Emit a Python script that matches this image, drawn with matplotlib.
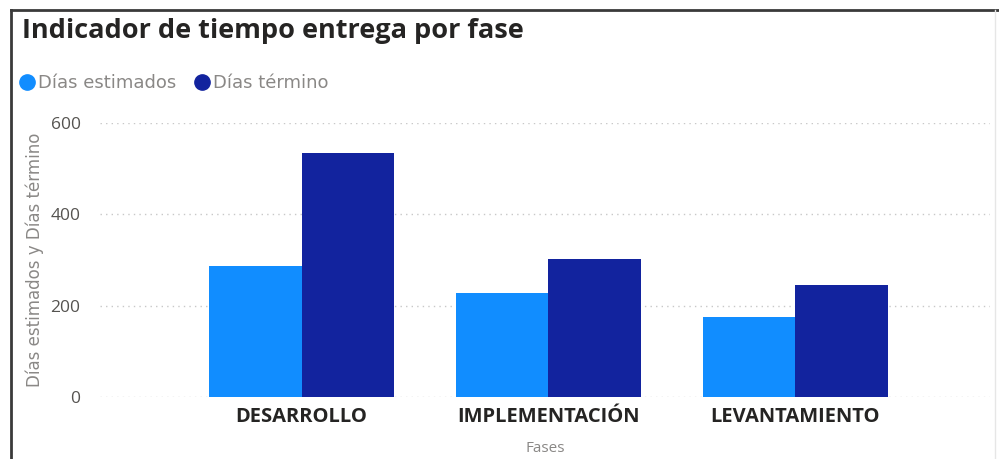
import numpy as np
import matplotlib.pyplot as plt
from matplotlib.lines import Line2D

# Data: days per phase
fases = ['DESARROLLO', 'IMPLEMENTACIÓN', 'LEVANTAMIENTO']
dias_estimados = [287, 228, 175]
dias_termino = [534, 302, 245]

c_est = '#118DFF'
c_ter = '#12239E'

plt.rcParams['font.family'] = ['Open Sans', 'DejaVu Sans']

fig = plt.figure(figsize=(9.99, 4.59), dpi=100)
ax = fig.add_axes([100 / 999, (459 - 397) / 459, 890 / 999, 274 / 459])

x = np.arange(len(fases))
w = 0.375
ax.bar(x - w / 2, dias_estimados, w, color=c_est, zorder=3)
ax.bar(x + w / 2, dias_termino, w, color=c_ter, zorder=3)

ax.set_xlim(-0.817, 2.79)
ax.set_ylim(0, 600)
ax.set_yticks([0, 200, 400, 600])
ax.yaxis.grid(True, color='#C8C8C8', linestyle=(0, (1, 3)), linewidth=1, zorder=0)
for s in ax.spines.values():
    s.set_visible(False)
ax.tick_params(axis='both', length=0)
ax.tick_params(axis='y', labelsize=12.5, labelcolor='#555350', pad=14)
ax.set_xticks(x)
ax.set_xticklabels(fases, fontsize=14.5, fontweight='bold', color='#252423')
ax.tick_params(axis='x', pad=7)
ax.set_xlabel('Fases', fontsize=11, color='#8a8886', labelpad=10)
ax.set_ylabel('Días estimados y Días término', fontsize=12, color='#8a8886',
              family=['DejaVu Sans'])
ax.yaxis.set_label_coords(-0.063, 0.5)

# Title and legend
fig.text(22 / 999, 1 - 31 / 459, 'Indicador de tiempo entrega por fase',
         fontsize=19.5, fontweight='bold', color='#252423', va='center')
handles = [Line2D([], [], marker='o', linestyle='', markersize=11, color=c_est),
           Line2D([], [], marker='o', linestyle='', markersize=11, color=c_ter)]
fig.legend(handles, ['Días estimados', 'Días término'], loc='center left',
           bbox_to_anchor=(19 / 999, 1 - 83 / 459), ncol=2, frameon=False,
           prop={'family': 'DejaVu Sans', 'size': 13}, labelcolor='#8a8886',
           handletextpad=0.15, columnspacing=1.0,
           handlelength=0.9, borderaxespad=0, borderpad=0)

# Screenshot frame lines
fig.add_artist(Line2D([11 / 999, 11 / 999], [0, 1 - 10 / 459], color='#3a3a3a', linewidth=2))
fig.add_artist(Line2D([11 / 999, 1], [1 - 10 / 459, 1 - 10 / 459], color='#3a3a3a', linewidth=2))
fig.add_artist(Line2D([995 / 999, 995 / 999], [0, 1 - 10 / 459], color='#e6e6e6', linewidth=1))

fig.savefig('out.png', dpi=100)
